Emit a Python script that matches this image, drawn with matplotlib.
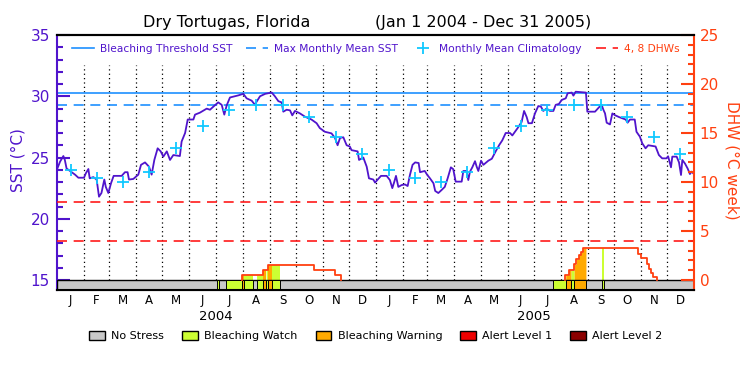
import numpy as np
import matplotlib
matplotlib.use('Agg')
import matplotlib.pyplot as plt
from matplotlib.lines import Line2D
from matplotlib.patches import Patch
from matplotlib.ticker import FixedLocator
import matplotlib.transforms as mtransforms

# 日数は 2004-01-01 からの経過日
sst_days = [0, 3.5, 7.3, 9, 11, 15, 20.7, 24.5, 31, 33, 36, 37.5, 41.7, 45.5, 48.2, 51,
            54.3, 56, 58.9, 62, 65, 74.2, 78, 81, 82.6, 87.6, 93.3, 96.4, 101, 105.6,
            108.6, 111.7, 115.5, 119, 122, 126, 129.7, 133.5, 141, 143, 147, 150, 156.5,
            158.4, 164, 171.8, 175.6, 179.4, 185, 189, 192, 194.7, 198.5, 208, 213.8,
            217.6, 223.4, 227.2, 229, 233, 239, 246.4, 250, 254, 257.7, 259.7, 263.5,
            267.4, 270, 273.1, 278.8, 284.6, 292, 297.9, 301.6, 307.4, 315, 319, 322,
            324.8, 328.6, 332.4, 336, 338, 345, 346.6, 351.5, 355.4, 358, 363,
            365, 368, 371.8, 378.3, 382, 384.8, 387, 389, 391.7, 395.5, 399.3, 402.4,
            405, 408, 411, 415, 416.6, 422, 425, 428, 432, 434, 437.6, 441.4, 445,
            448.3, 452, 454.7, 457.5, 464.4, 466.3, 470, 472, 473.9, 476.6, 479.7,
            481.6, 483.5, 486.6, 489.3, 495, 499, 503.4, 507.3, 511, 514.9, 519.9,
            522.5, 528.6, 533.2, 536, 539, 541, 545, 548.5, 552.3, 555.4, 558, 562,
            565.7, 569.6, 572.3, 576, 579.2, 583.8, 586, 590.7, 592.6, 595.2, 602, 607,
            608.6, 617.4, 622, 625, 627, 628.9, 630.8, 634.6, 637.3, 640.4, 645, 648.8,
            652.6, 654.8, 657.5, 663, 665, 668.9, 671.6, 675.4, 678.5, 683.1, 686.9,
            690.7, 694.5, 699.4, 701.3, 704.6, 706.1, 711.1, 713.8, 716.1, 717.6,
            720.7, 723.7, 726.3, 728.2, 731]
sst_vals = [24.03, 24.66, 25.12, 24.8, 24.1, 23.9, 23.6, 23.35, 23.35, 23.7, 24.06, 23.3,
            23.4, 23.2, 21.8, 22.1, 23.2, 22.6, 22.1, 22.9, 23.5, 23.5, 23.8, 23.8, 23.2,
            23.25, 23.6, 24.4, 24.6, 24.25, 23.6, 24.8, 25.75, 25.5, 25.07, 25.5, 24.8,
            25.2, 25.12, 26.3, 27.0, 28.1, 28.1, 28.5, 28.66, 28.99, 28.9, 29.15, 29.5,
            29.3, 28.5, 29.25, 29.9, 30.07, 30.2, 29.83, 29.64, 29.3, 29.55, 30.0, 30.2,
            30.3, 30.0, 29.6, 29.5, 28.74, 28.9, 28.85, 28.44, 28.8, 28.6, 28.33, 28.1,
            27.8, 27.4, 27.1, 26.97, 26.6, 26.0, 26.6, 26.65, 26.0, 25.9, 25.6, 25.5,
            24.8, 25.0, 24.25, 23.3, 23.2,
            22.95, 23.2, 23.5, 23.5, 23.16, 22.5, 23.0, 23.5, 22.6, 22.75, 22.8, 22.67,
            23.57, 24.4, 24.6, 24.55, 23.8, 23.9, 23.57, 23.3, 22.9, 22.27, 22.1, 22.35,
            22.6, 23.3, 24.2, 24.05, 23.03, 23.03, 23.9, 23.9, 23.16, 23.84, 24.2, 24.7,
            24.25, 23.9, 24.74, 24.4, 24.74, 24.9, 25.5, 26.0, 26.4, 27.0, 27.0, 26.8,
            27.4, 27.9, 28.8, 28.3, 27.8, 27.8, 28.6, 29.2, 29.15, 28.8, 29.0, 28.8,
            28.8, 29.3, 29.37, 29.7, 29.83, 30.24, 30.3, 30.05, 30.37, 30.33, 30.3,
            28.74, 28.74, 29.1, 29.3, 28.9, 28.6, 27.84, 27.7, 28.6, 28.45, 28.3, 28.2,
            28.1, 27.84, 28.1, 28.1, 27.1, 26.7, 26.16, 25.75, 26.0, 25.95, 25.9, 25.2,
            24.93, 24.93, 25.1, 24.2, 25.07, 25.07, 24.6, 23.57, 24.8, 24.5, 24.1, 23.65,
            23.85, 23.65]

# 月平均気候値（1月〜12月）
clim_vals = [24.0, 23.3, 22.97, 23.85, 25.75, 27.55, 28.88, 29.25, 29.28, 28.3, 26.7, 25.3]
mmm = 29.26
threshold = mmm + 1.0
dhw_refs = [4, 8]

# DHW（階段状）
dhw04_days = [212, 236, 242.5, 295.3, 319, 326]
dhw04_vals = [0.5, 1.0, 1.5, 1.0, 0.5, 0.0]
dhw05_days = [583.5, 587, 593.5, 596, 598.5, 601, 603.5, 667, 670, 677, 679.5, 682, 684.5, 688]
dhw05_vals = [0.5, 1.0, 1.6, 2.1, 2.6, 2.85, 3.25, 2.7, 2.2, 1.6, 1.15, 0.7, 0.3, 0.0]

# ストレスレベル（1: Watch, 2: Warning）
stress_start = [183.3, 194, 212, 214.6, 229, 236, 240, 242.5, 246.4, 569.6, 583.8, 590, 593.5, 625.8]
stress_end = [185.6, 212, 214.6, 225.3, 236, 240, 242.5, 246.4, 256, 583.8, 590, 593.5, 607, 628]
stress_level = [1, 1, 2, 1, 1, 2, 1, 2, 1, 1, 2, 1, 2, 1]

stress_names = ['No Stress', 'Bleaching Watch', 'Bleaching Warning', 'Alert Level 1', 'Alert Level 2']
stress_colors = ['#c8c8c8', '#ccff33', '#ffaa00', '#ee0000', '#8b0000']
month_letters = ['J', 'F', 'M', 'A', 'M', 'J', 'J', 'A', 'S', 'O', 'N', 'D'] * 2
years = ['2004', '2005']

purple = '#5014cc'
red_o = '#ff4010'
blue = '#1e90ff'
cyan = '#10c8ff'

# 月の境界（日数）
start = np.datetime64('2004-01-01')
months = np.arange('2004-01', '2006-02', dtype='datetime64[M]').astype('datetime64[D]')
month_days = (months - start).astype(int)
mid_days = (month_days[:-1] + month_days[1:]) / 2
n_days = month_days[-1]

fig = plt.figure(figsize=(7.5, 3.75), dpi=100)
ax = fig.add_axes([57 / 750, 1 - 290 / 375, 637 / 750, 255 / 375])
ax2 = ax.twinx()

sst_lo = 15 - 10 / 12.25
dhw_lo = -10 / 9.8
ax.set_xlim(0, n_days)
ax.set_ylim(sst_lo, 35)
ax2.set_ylim(dhw_lo, 25)

# 月の点線
ax.vlines(month_days[1:-1], 15, 32.55, colors='black', linestyles=(0, (1, 2.5)), lw=0.9, zorder=1)

# 閾値
ax.axhline(threshold, color=blue, lw=1.2, zorder=2)
ax.axhline(mmm, color=blue, lw=1.2, ls=(0, (6, 4)), zorder=2)

ax.plot(sst_days, sst_vals, color=purple, lw=1.3, zorder=3)
ax.plot(mid_days, np.tile(clim_vals, 2), '+', color=cyan, ms=8, mew=1.3, ls='none', zorder=4)

# DHW 4, 8
for v in dhw_refs:
    ax2.axhline(v, color='#ff1a1a', lw=1.2, ls=(0, (6, 4)))


def dhw_at(t):
    out = np.zeros_like(t)
    for d, v in ((dhw04_days, dhw04_vals), (dhw05_days, dhw05_vals)):
        d = np.asarray(d)
        v = np.asarray(v)
        i = np.searchsorted(d, t, side='right') - 1
        inside = (i >= 0) & (t < d[-1])
        out[inside] = v[i[inside]]
    return out


# DHW の下をストレスレベルで塗る
for s, e, lv in zip(stress_start, stress_end, stress_level):
    t = np.linspace(s, e, 200)
    ax2.fill_between(t, 0, dhw_at(t), color=stress_colors[lv], lw=0)

for d, v in ((dhw04_days, dhw04_vals), (dhw05_days, dhw05_vals)):
    ax2.step([d[0]] + d, [0] + v, where='post', color=red_o, lw=1.3)

# ストレスバー
ax2.bar(0, -dhw_lo, width=n_days, bottom=dhw_lo, align='edge', color=stress_colors[0],
        edgecolor='black', lw=1.0)
ax2.bar(stress_start, -dhw_lo, width=np.subtract(stress_end, stress_start), bottom=dhw_lo,
        align='edge', color=[stress_colors[lv] for lv in stress_level], edgecolor='black', lw=0.7)

# 軸
ax.set_xticks(mid_days, labels=month_letters, fontsize=8.5)
ax.tick_params(axis='x', length=0, pad=3)
ax2.tick_params(axis='x', length=0)

ax.set_yticks(range(15, 36, 5))
ax.yaxis.set_minor_locator(FixedLocator(range(15, 36)))
ax.tick_params(axis='y', which='major', direction='in', length=9.5, width=1.5,
               colors=purple, labelsize=11, pad=5)
ax.tick_params(axis='y', which='minor', direction='in', length=4.5, width=1.5, colors=purple)

ax2.set_yticks(range(0, 26, 5))
ax2.yaxis.set_minor_locator(FixedLocator(range(0, 26)))
ax2.tick_params(axis='y', which='major', direction='in', length=9.5, width=1.5,
                colors=red_o, labelsize=11, pad=4)
ax2.tick_params(axis='y', which='minor', direction='in', length=4.5, width=1.5, colors=red_o)

for a in (ax, ax2):
    for sp in a.spines.values():
        sp.set_linewidth(1.5)
ax.spines['left'].set_color(purple)
ax.spines['right'].set_visible(False)
ax2.spines['left'].set_visible(False)
ax2.spines['right'].set_color(red_o)

trans = mtransforms.blended_transform_factory(ax.transData, ax.transAxes)
for k, y in enumerate(years):
    ax.text(month_days[12 * k + 6], -0.102, y, transform=trans, ha='center', va='center', fontsize=9.5)

fig.text(18 / 750, 1 - 160 / 375, 'SST (°C)', rotation=90, ha='center', va='center',
         color=purple, fontsize=11)
fig.text(732 / 750, 1 - 160 / 375, 'DHW (°C week)', rotation=-90, ha='center', va='center',
         color=red_o, fontsize=11)
fig.text(227 / 750, 1 - 23 / 375, 'Dry Tortugas, Florida', ha='center', va='center', fontsize=11.5)
fig.text(483 / 750, 1 - 23 / 375, '(Jan 1 2004 - Dec 31 2005)', ha='center', va='center', fontsize=11.5)

# 上の凡例
handles = [Line2D([], [], color=blue, lw=1.2),
           Line2D([], [], color=blue, lw=1.2, ls=(0, (6, 4))),
           Line2D([], [], color=cyan, marker='+', ms=8, mew=1.3, ls='none'),
           Line2D([], [], color='#ff1a1a', lw=1.2, ls=(0, (6, 4)))]
labels = ['Bleaching Threshold SST', 'Max Monthly Mean SST', 'Monthly Mean Climatology', '4, 8 DHWs']
leg = ax2.legend(handles, labels, ncol=4, loc='upper center', bbox_to_anchor=(0.5, 1.0),
                 frameon=False, fontsize=7.7, handlelength=2.1, handletextpad=0.5,
                 columnspacing=1.3, borderaxespad=0.4, labelcolor=[purple, purple, purple, red_o])

# 下の凡例
patches = [Patch(facecolor=c, edgecolor='black', lw=1) for c in stress_colors]
fig.legend(patches, stress_names, ncol=5, loc='center', bbox_to_anchor=(376 / 750, 1 - 336 / 375),
           frameon=False, fontsize=8, handlelength=1.4, handleheight=0.95, handletextpad=0.6,
           columnspacing=1.6)

fig.savefig('out.png', dpi=100)
plt.close(fig)
